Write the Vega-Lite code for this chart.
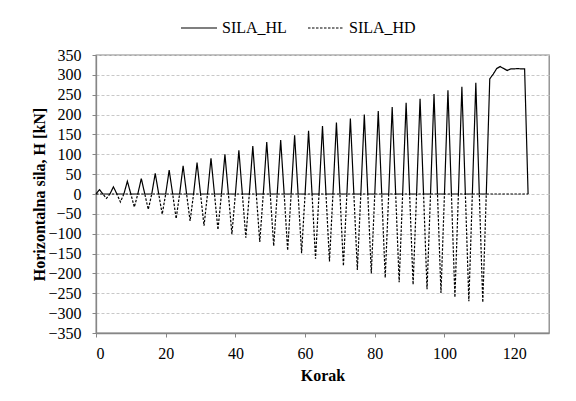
{
  "$schema": "https://vega.github.io/schema/vega-lite/v6.json",
  "width": 453,
  "height": 278,
  "autosize": {"type": "none"},
  "padding": {"left": 96, "top": 55, "right": 27, "bottom": 68},
  "background": "white",
  "config": {
    "font": "Liberation Serif",
    "view": {"stroke": "#868686", "strokeWidth": 1.3},
    "axis": {
      "labelFont": "Liberation Serif",
      "labelFontSize": 16,
      "labelColor": "black",
      "titleFont": "Liberation Serif",
      "titleFontSize": 16,
      "titleFontWeight": "bold",
      "titleColor": "black",
      "domainColor": "#868686",
      "domainWidth": 1.3,
      "tickColor": "#868686",
      "tickSize": 4,
      "gridColor": "#c8c8c8",
      "gridDash": [3, 2],
      "gridWidth": 1
    },
    "legend": {
      "labelFont": "Liberation Serif",
      "labelFontSize": 16,
      "labelColor": "black"
    }
  },
  "data": {
    "values": [
      {"k":0,"SILA_HL":0,"SILA_HD":0},
      {"k":1,"SILA_HL":11,"SILA_HD":0},
      {"k":2,"SILA_HL":0,"SILA_HD":0},
      {"k":3,"SILA_HL":0,"SILA_HD":-11},
      {"k":4,"SILA_HL":0,"SILA_HD":0},
      {"k":5,"SILA_HL":18,"SILA_HD":0},
      {"k":6,"SILA_HL":0,"SILA_HD":0},
      {"k":7,"SILA_HL":0,"SILA_HD":-20},
      {"k":8,"SILA_HL":0,"SILA_HD":0},
      {"k":9,"SILA_HL":32,"SILA_HD":0},
      {"k":10,"SILA_HL":0,"SILA_HD":0},
      {"k":11,"SILA_HL":0,"SILA_HD":-33},
      {"k":12,"SILA_HL":0,"SILA_HD":0},
      {"k":13,"SILA_HL":39,"SILA_HD":0},
      {"k":14,"SILA_HL":0,"SILA_HD":0},
      {"k":15,"SILA_HL":0,"SILA_HD":-39},
      {"k":16,"SILA_HL":0,"SILA_HD":0},
      {"k":17,"SILA_HL":52,"SILA_HD":0},
      {"k":18,"SILA_HL":0,"SILA_HD":0},
      {"k":19,"SILA_HL":0,"SILA_HD":-51},
      {"k":20,"SILA_HL":0,"SILA_HD":0},
      {"k":21,"SILA_HL":60,"SILA_HD":0},
      {"k":22,"SILA_HL":0,"SILA_HD":0},
      {"k":23,"SILA_HL":0,"SILA_HD":-62},
      {"k":24,"SILA_HL":0,"SILA_HD":0},
      {"k":25,"SILA_HL":71,"SILA_HD":0},
      {"k":26,"SILA_HL":0,"SILA_HD":0},
      {"k":27,"SILA_HL":0,"SILA_HD":-68},
      {"k":28,"SILA_HL":0,"SILA_HD":0},
      {"k":29,"SILA_HL":79,"SILA_HD":0},
      {"k":30,"SILA_HL":0,"SILA_HD":0},
      {"k":31,"SILA_HL":0,"SILA_HD":-80},
      {"k":32,"SILA_HL":0,"SILA_HD":0},
      {"k":33,"SILA_HL":90,"SILA_HD":0},
      {"k":34,"SILA_HL":0,"SILA_HD":0},
      {"k":35,"SILA_HL":0,"SILA_HD":-90},
      {"k":36,"SILA_HL":0,"SILA_HD":0},
      {"k":37,"SILA_HL":100,"SILA_HD":0},
      {"k":38,"SILA_HL":0,"SILA_HD":0},
      {"k":39,"SILA_HL":0,"SILA_HD":-101},
      {"k":40,"SILA_HL":0,"SILA_HD":0},
      {"k":41,"SILA_HL":110,"SILA_HD":0},
      {"k":42,"SILA_HL":0,"SILA_HD":0},
      {"k":43,"SILA_HL":0,"SILA_HD":-110},
      {"k":44,"SILA_HL":0,"SILA_HD":0},
      {"k":45,"SILA_HL":121,"SILA_HD":0},
      {"k":46,"SILA_HL":0,"SILA_HD":0},
      {"k":47,"SILA_HL":0,"SILA_HD":-121},
      {"k":48,"SILA_HL":0,"SILA_HD":0},
      {"k":49,"SILA_HL":131,"SILA_HD":0},
      {"k":50,"SILA_HL":0,"SILA_HD":0},
      {"k":51,"SILA_HL":0,"SILA_HD":-131},
      {"k":52,"SILA_HL":0,"SILA_HD":0},
      {"k":53,"SILA_HL":136,"SILA_HD":0},
      {"k":54,"SILA_HL":0,"SILA_HD":0},
      {"k":55,"SILA_HL":0,"SILA_HD":-142},
      {"k":56,"SILA_HL":0,"SILA_HD":0},
      {"k":57,"SILA_HL":148,"SILA_HD":0},
      {"k":58,"SILA_HL":0,"SILA_HD":0},
      {"k":59,"SILA_HL":0,"SILA_HD":-149},
      {"k":60,"SILA_HL":0,"SILA_HD":0},
      {"k":61,"SILA_HL":159,"SILA_HD":0},
      {"k":62,"SILA_HL":0,"SILA_HD":0},
      {"k":63,"SILA_HL":0,"SILA_HD":-163},
      {"k":64,"SILA_HL":0,"SILA_HD":0},
      {"k":65,"SILA_HL":171,"SILA_HD":0},
      {"k":66,"SILA_HL":0,"SILA_HD":0},
      {"k":67,"SILA_HL":0,"SILA_HD":-170},
      {"k":68,"SILA_HL":0,"SILA_HD":0},
      {"k":69,"SILA_HL":180,"SILA_HD":0},
      {"k":70,"SILA_HL":0,"SILA_HD":0},
      {"k":71,"SILA_HL":0,"SILA_HD":-181},
      {"k":72,"SILA_HL":0,"SILA_HD":0},
      {"k":73,"SILA_HL":190,"SILA_HD":0},
      {"k":74,"SILA_HL":0,"SILA_HD":0},
      {"k":75,"SILA_HL":0,"SILA_HD":-191},
      {"k":76,"SILA_HL":0,"SILA_HD":0},
      {"k":77,"SILA_HL":200,"SILA_HD":0},
      {"k":78,"SILA_HL":0,"SILA_HD":0},
      {"k":79,"SILA_HL":0,"SILA_HD":-200},
      {"k":80,"SILA_HL":0,"SILA_HD":0},
      {"k":81,"SILA_HL":209,"SILA_HD":0},
      {"k":82,"SILA_HL":0,"SILA_HD":0},
      {"k":83,"SILA_HL":0,"SILA_HD":-211},
      {"k":84,"SILA_HL":0,"SILA_HD":0},
      {"k":85,"SILA_HL":219,"SILA_HD":0},
      {"k":86,"SILA_HL":0,"SILA_HD":0},
      {"k":87,"SILA_HL":0,"SILA_HD":-222},
      {"k":88,"SILA_HL":0,"SILA_HD":0},
      {"k":89,"SILA_HL":230,"SILA_HD":0},
      {"k":90,"SILA_HL":0,"SILA_HD":0},
      {"k":91,"SILA_HL":0,"SILA_HD":-228},
      {"k":92,"SILA_HL":0,"SILA_HD":0},
      {"k":93,"SILA_HL":240,"SILA_HD":0},
      {"k":94,"SILA_HL":0,"SILA_HD":0},
      {"k":95,"SILA_HL":0,"SILA_HD":-240},
      {"k":96,"SILA_HL":0,"SILA_HD":0},
      {"k":97,"SILA_HL":252,"SILA_HD":0},
      {"k":98,"SILA_HL":0,"SILA_HD":0},
      {"k":99,"SILA_HL":0,"SILA_HD":-249},
      {"k":100,"SILA_HL":0,"SILA_HD":0},
      {"k":101,"SILA_HL":261,"SILA_HD":0},
      {"k":102,"SILA_HL":0,"SILA_HD":0},
      {"k":103,"SILA_HL":0,"SILA_HD":-260},
      {"k":104,"SILA_HL":0,"SILA_HD":0},
      {"k":105,"SILA_HL":270,"SILA_HD":0},
      {"k":106,"SILA_HL":0,"SILA_HD":0},
      {"k":107,"SILA_HL":0,"SILA_HD":-270},
      {"k":108,"SILA_HL":0,"SILA_HD":0},
      {"k":109,"SILA_HL":280,"SILA_HD":0},
      {"k":110,"SILA_HL":0,"SILA_HD":0},
      {"k":111,"SILA_HL":0,"SILA_HD":-273},
      {"k":112,"SILA_HL":0,"SILA_HD":0},
      {"k":113,"SILA_HL":290,"SILA_HD":0},
      {"k":114,"SILA_HL":302,"SILA_HD":0},
      {"k":115,"SILA_HL":316,"SILA_HD":0},
      {"k":116,"SILA_HL":321,"SILA_HD":0},
      {"k":117,"SILA_HL":316,"SILA_HD":0},
      {"k":118,"SILA_HL":311,"SILA_HD":0},
      {"k":119,"SILA_HL":315,"SILA_HD":0},
      {"k":120,"SILA_HL":315,"SILA_HD":0},
      {"k":121,"SILA_HL":316,"SILA_HD":0},
      {"k":122,"SILA_HL":315,"SILA_HD":0},
      {"k":123,"SILA_HL":315,"SILA_HD":0},
      {"k":124,"SILA_HL":0,"SILA_HD":0}
    ]
  },
  "transform": [{"fold": ["SILA_HL", "SILA_HD"], "as": ["serija", "H"]}],
  "mark": {"type": "line", "color": "black", "strokeWidth": 1.2},
  "encoding": {
    "x": {
      "field": "k",
      "type": "quantitative",
      "title": "Korak",
      "scale": {"domain": [0, 130], "nice": false},
      "axis": {"values": [0, 20, 40, 60, 80, 100, 120], "grid": false, "labelFont": "Liberation Serif", "labelFontSize": 16, "titleFont": "Liberation Serif", "labelPadding": 8, "titlePadding": 6}
    },
    "y": {
      "field": "H",
      "type": "quantitative",
      "title": "Horizontalna sila, H [kN]",
      "scale": {"domain": [-350, 350], "nice": false},
      "axis": {"values": [-350,-300,-250,-200,-150,-100,-50,0,50,100,150,200,250,300,350], "labelFont": "Liberation Serif", "labelFontSize": 16, "titleFont": "Liberation Serif", "labelPadding": 11, "titlePadding": 0}
    },
    "strokeDash": {
      "field": "serija",
      "type": "nominal",
      "scale": {"domain": ["SILA_HL", "SILA_HD"], "range": [[1, 0], [2.5, 1.5]]},
      "legend": {
        "title": null,
        "orient": "none",
        "direction": "horizontal",
        "legendX": 84,
        "legendY": -46,
        "symbolType": "stroke",
        "symbolSize": 1296,
        "symbolStrokeColor": "black",
        "symbolStrokeWidth": 1.2,
        "labelOffset": 4,
        "columnPadding": 18
      }
    }
  }
}
